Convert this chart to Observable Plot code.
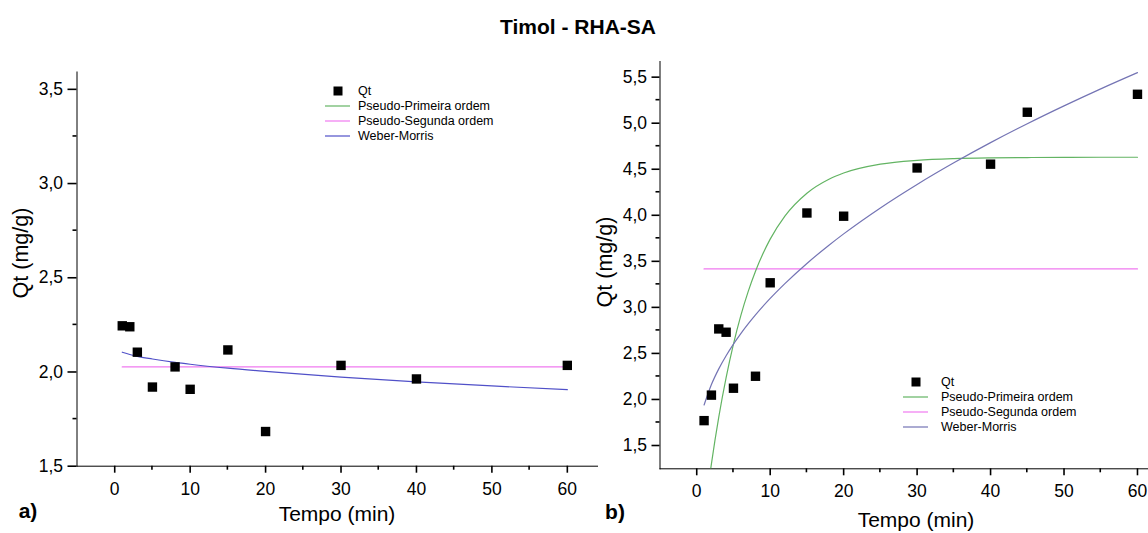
<!DOCTYPE html>
<html><head><meta charset="utf-8">
<script src="https://cdn.jsdelivr.net/npm/d3@7"></script>
<script src="https://cdn.jsdelivr.net/npm/@observablehq/plot@0.6"></script>
<style>
body{margin:0;background:#fff}
#wrap{position:relative;width:1148px;height:533px;overflow:hidden;font-family:"Liberation Sans",Arial,Helvetica,sans-serif;color:#000;background:#fff}
.abs{position:absolute;white-space:nowrap;line-height:1}
.panel{position:absolute;top:0}
.panel svg [aria-label^="x-axis"], .panel svg [aria-label^="y-axis"]{stroke-width:1.6}
</style></head><body>
<div id="wrap"></div>
<script>
// ---- text ----
const titleText = "Timol - RHA-SA";
const xLabel = "Tempo (min)";
const yLabel = "Qt (mg/g)";
const panelLetters = ["a)", "b)"];
const seriesNames = ["Qt", "Pseudo-Primeira ordem", "Pseudo-Segunda ordem", "Weber-Morris"];

// ---- ticks ----
const xTickValues = [0, 10, 20, 30, 40, 50, 60];
const xMinorTicks = [5, 15, 25, 35, 45, 55];
const yTicksA = [1.5, 2.0, 2.5, 3.0, 3.5];
const yMinorA = [1.75, 2.25, 2.75, 3.25];
const yTicksB = [1.5, 2.0, 2.5, 3.0, 3.5, 4.0, 4.5, 5.0, 5.5];
const yMinorB = [1.75, 2.25, 2.75, 3.25, 3.75, 4.25, 4.75, 5.25];

// ---- panel a) data ----
const tA  = [1, 2, 3, 5, 8, 10, 15, 20, 30, 40, 60];
const qtA = [2.245, 2.240, 2.105, 1.920, 2.027, 1.908, 2.117, 1.684, 2.035, 1.963, 2.035];
const fitTA = [1, 2, 3, 5, 8, 10, 15, 20, 30, 40, 50, 60];
const wmA   = [2.105, 2.093, 2.083, 2.069, 2.051, 2.041, 2.020, 2.003, 1.973, 1.948, 1.926, 1.906];
const psoTA = [1, 60];
const psoA  = [2.027, 2.027];

// ---- panel b) data ----
const tB  = [1, 2, 3, 4, 5, 8, 10, 15, 20, 30, 40, 45, 60];
const qtB = [1.770, 2.047, 2.766, 2.730, 2.122, 2.252, 3.267, 4.025, 3.990, 4.514, 4.555, 5.119, 5.314];
const fitTB = [1, 2, 3, 4, 5, 6, 7, 8, 10, 12, 15, 18, 20, 25, 30, 35, 40, 45, 50, 55, 60];
const pfoB  = [0.704, 1.301, 1.808, 2.237, 2.601, 2.910, 3.171, 3.393, 3.741, 3.991, 4.240, 4.392, 4.459, 4.555, 4.597, 4.616, 4.624, 4.627, 4.629, 4.630, 4.630];
const wmB   = [1.940, 2.162, 2.332, 2.475, 2.601, 2.715, 2.820, 2.918, 3.097, 3.258, 3.477, 3.675, 3.798, 4.080, 4.335, 4.570, 4.789, 4.994, 5.188, 5.373, 5.549];
const psoTB = [1, 60];
const psoB  = [3.417, 3.417];

// ---- colours ----
const cGreen = "#63b463", cPink = "#f07af0", cBlueA = "#5050c8", cBlueB = "#7474b4";

const FONT = '"Liberation Sans", Arial, Helvetica, sans-serif';
const fmt = d => d.toFixed(1).replace(".", ",");
const tbl = (xs, ys) => xs.map((t, i) => ({t, q: ys[i]}));

const wrap = d3.select("#wrap");

function panel(cfg) {
  const H = 533;
  const chart = Plot.plot({
    width: cfg.width, height: H,
    marginLeft: cfg.ml, marginRight: cfg.mr, marginTop: cfg.mt, marginBottom: cfg.mb,
    style: {background: "transparent", fontFamily: FONT, fontSize: "17.5px", color: "#000", overflow: "visible"},
    x: {domain: cfg.xd, ticks: xTickValues, tickFormat: d => String(d), tickSize: 7, tickPadding: 9, line: true, label: null},
    y: {domain: cfg.yd, ticks: cfg.yt, tickFormat: fmt, tickSize: cfg.yts, tickPadding: 5, line: true, label: null},
    marks: cfg.marks
  });
  const sx = chart.scale("x"), sy = chart.scale("y");
  const g = d3.select(chart).append("g").attr("stroke", "#000").attr("stroke-width", 1.6);
  const yb = H - cfg.mb, xl = cfg.ml;
  xMinorTicks.filter(v => v >= cfg.xd[0] && v <= cfg.xd[1]).forEach(v => {
    const x = sx.apply(v);
    g.append("line").attr("x1", x).attr("x2", x).attr("y1", yb).attr("y2", yb + 4);
  });
  cfg.ym.forEach(v => {
    const y = sy.apply(v);
    g.append("line").attr("x1", xl - 4).attr("x2", xl).attr("y1", y).attr("y2", y);
  });
  const div = wrap.append("div").attr("class", "panel").style("left", cfg.left + "px");
  div.node().appendChild(chart);
}

panel({
  left: 0, width: 600, ml: 76.5, mr: 3, mt: 71.5, mb: 67.3,
  xd: [-5, 64], yd: [1.5, 3.592], yt: yTicksA, ym: yMinorA, yts: 9,
  marks: [
    Plot.line(tbl(psoTA, psoA), {x: "t", y: "q", stroke: cPink, strokeWidth: 1.3}),
    Plot.line(tbl(fitTA, wmA), {x: "t", y: "q", stroke: cBlueA, strokeWidth: 1.2, curve: "monotone-x"}),
    Plot.dot(tbl(tA, qtA), {x: "t", y: "q", symbol: "square", r: 5.3, fill: "#000", stroke: "none"})
  ]
});

panel({
  left: 600, width: 548, ml: 59.5, mr: 0, mt: 61, mb: 64.7,
  xd: [-5, 61.5], yd: [1.247, 5.67], yt: yTicksB, ym: yMinorB, yts: 8,
  marks: [
    Plot.line(tbl(psoTB, psoB), {x: "t", y: "q", stroke: cPink, strokeWidth: 1.3}),
    Plot.line(tbl(fitTB, pfoB), {x: "t", y: "q", stroke: cGreen, strokeWidth: 1.2, curve: "monotone-x", clip: true}),
    Plot.line(tbl(fitTB, wmB), {x: "t", y: "q", stroke: cBlueB, strokeWidth: 1.2, curve: "monotone-x"}),
    Plot.dot(tbl(tB, qtB), {x: "t", y: "q", symbol: "square", r: 5.3, fill: "#000", stroke: "none"})
  ]
});

// ---- text overlays ----
function text(str, x, y, opts = {}) {
  const d = wrap.append("div").attr("class", "abs").text(str)
    .style("left", x + "px").style("top", y + "px")
    .style("font-size", (opts.size || 20) + "px")
    .style("font-weight", opts.bold ? "bold" : "normal")
    .style("transform", opts.transform || "translate(-50%,-50%)");
  return d;
}
text(titleText, 578, 26, {size: 21, bold: true});
text(xLabel, 337, 513, {size: 21});
text(xLabel, 916, 519, {size: 21});
text(yLabel, 22, 253, {size: 21.5, transform: "translate(-50%,-50%) rotate(-90deg)"});
text(yLabel, 606, 262, {size: 21.5, transform: "translate(-50%,-50%) rotate(-90deg)"});
text(panelLetters[0], 28, 510, {size: 21, bold: true});
text(panelLetters[1], 615, 511, {size: 21, bold: true});

// ---- legends ----
function legend(x0, y0, textX, wmColor) {
  const colors = [null, cGreen, cPink, wmColor];
  seriesNames.forEach((name, i) => {
    const y = y0 + i * 15;
    const sw = wrap.append("svg").attr("width", 30).attr("height", 12)
      .style("position", "absolute").style("left", x0 + "px").style("top", (y - 6) + "px");
    if (i === 0) sw.append("rect").attr("x", 8.5).attr("y", 1.5).attr("width", 9).attr("height", 9).attr("fill", "#000");
    else sw.append("line").attr("x1", 0).attr("x2", 25).attr("y1", 6).attr("y2", 6).attr("stroke", colors[i]).attr("stroke-width", 1.2);
    text(name, textX, y, {size: 12.5, transform: "translate(0,-50%)"});
  });
}
legend(325, 91, 358, cBlueA);
legend(903, 382, 941, cBlueB);
</script>
</body></html>
